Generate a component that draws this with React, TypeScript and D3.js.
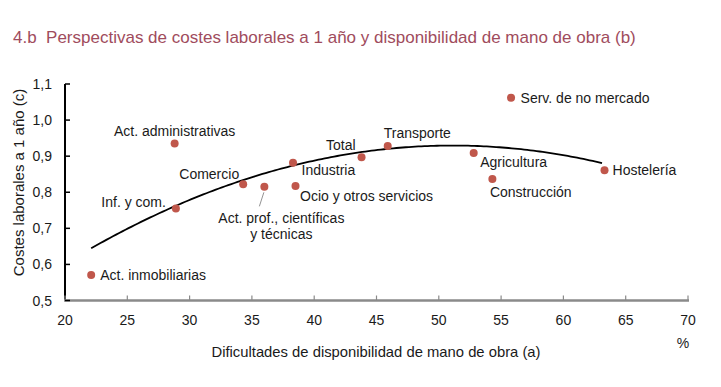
import React, { useEffect, useRef } from 'react';
import * as d3 from 'd3';

// sector data: x = dificultades de disponibilidad (%), y = costes laborales
const sectors = [
  'Act. inmobiliarias', 'Act. administrativas', 'Inf. y com.', 'Comercio',
  'Act. prof., científicas|y técnicas', 'Industria', 'Ocio y otros servicios', 'Total',
  'Transporte', 'Agricultura', 'Construcción', 'Serv. de no mercado', 'Hostelería',
];
const difficulty = [22.1, 28.8, 28.9, 34.3, 36.0, 38.3, 38.5, 43.8, 45.9, 52.8, 54.3, 55.8, 63.3];
const laborCost = [0.571, 0.935, 0.755, 0.822, 0.815, 0.882, 0.817, 0.897, 0.928, 0.909, 0.837, 1.062, 0.861];

const xTicks = [20, 25, 30, 35, 40, 45, 50, 55, 60, 65, 70];
const yTicks = [0.5, 0.6, 0.7, 0.8, 0.9, 1.0, 1.1];

// label placement relative to each point: [dx, dy, anchor]
const labelPos: [number, number, string][] = [
  [9, 0, 'start'], [0, -13, 'middle'], [-10, -6, 'end'], [-4, -10, 'end'],
  [17, 31.5, 'middle'], [8.5, 7.5, 'start'], [4.5, 9.5, 'start'], [-6, -12.5, 'end'],
  [-4, -13.5, 'start'], [6.5, 9, 'start'], [-2.5, 13.5, 'start'], [9.5, 0, 'start'], [8, 0, 'start'],
];

const FONT = '"Liberation Sans", Arial, sans-serif';
const DOT = '#c0574b';

// quadratic least squares fit
function quadFit(xs: number[], ys: number[]) {
  const S = (f: (x: number, y: number) => number) => d3.sum(xs, (x, i) => f(x, ys[i]));
  const A = [
    [xs.length, S(x => x), S(x => x * x)],
    [S(x => x), S(x => x * x), S(x => x ** 3)],
    [S(x => x * x), S(x => x ** 3), S(x => x ** 4)],
  ];
  const B = [S((x, y) => y), S((x, y) => x * y), S((x, y) => x * x * y)];
  const det = (m: number[][]) =>
    m[0][0] * (m[1][1] * m[2][2] - m[1][2] * m[2][1]) -
    m[0][1] * (m[1][0] * m[2][2] - m[1][2] * m[2][0]) +
    m[0][2] * (m[1][0] * m[2][1] - m[1][1] * m[2][0]);
  const D = det(A);
  return [0, 1, 2].map(k => det(A.map((row, i) => row.map((v, j) => (j === k ? B[i] : v)))) / D);
}

const App = () => {
  const ref = useRef<SVGSVGElement>(null);

  useEffect(() => {
    const svg = d3.select(ref.current);
    svg.selectAll('*').remove();

    const x = d3.scaleLinear().domain([20, 70]).range([65, 688]);
    const y = d3.scaleLinear().domain([0.5, 1.1]).range([300.5, 84]);

    svg.append('text')
      .attr('x', 13).attr('y', 43)
      .attr('font-size', 17).attr('fill', '#9f4c5d')
      .attr('xml:space', 'preserve')
      .text('4.b  Perspectivas de costes laborales a 1 año y disponibilidad de mano de obra (b)');

    // axes
    svg.append('line').attr('x1', 65).attr('x2', 65).attr('y1', y(1.1)).attr('y2', y(0.5))
      .attr('stroke', '#000').attr('stroke-width', 2);
    svg.append('line').attr('x1', 64).attr('x2', x(70) + 1).attr('y1', y(0.5)).attr('y2', y(0.5))
      .attr('stroke', '#8a8a8a').attr('stroke-width', 2.5);

    svg.selectAll('.xt').data(xTicks).enter().append('line')
      .attr('x1', d => x(d)).attr('x2', d => x(d)).attr('y1', y(0.5)).attr('y2', y(0.5) - 5)
      .attr('stroke', '#8a8a8a').attr('stroke-width', 1.2);
    svg.selectAll('.xl').data(xTicks).enter().append('text')
      .attr('x', d => x(d)).attr('y', 324.5).attr('text-anchor', 'middle')
      .attr('font-size', 14).attr('fill', '#1a1a1a').text(d => d);

    svg.selectAll('.yt').data(yTicks).enter().append('line')
      .attr('x1', 65).attr('x2', 70).attr('y1', d => y(d)).attr('y2', d => y(d))
      .attr('stroke', '#000').attr('stroke-width', 1.5);
    svg.selectAll('.yl').data(yTicks).enter().append('text')
      .attr('x', 52).attr('y', d => y(d) + 5).attr('text-anchor', 'end')
      .attr('font-size', 14).attr('fill', '#1a1a1a').text(d => d3.format('.1f')(d).replace('.', ','));

    svg.append('text')
      .attr('transform', 'translate(24,182.5) rotate(-90)').attr('text-anchor', 'middle')
      .attr('font-size', 15).attr('fill', '#1a1a1a').text('Costes laborales a 1 año (c)');
    svg.append('text')
      .attr('x', 376).attr('y', 357).attr('text-anchor', 'middle')
      .attr('font-size', 14.8).attr('fill', '#1a1a1a')
      .text('Dificultades de disponibilidad de mano de obra (a)');
    svg.append('text')
      .attr('x', 683).attr('y', 348).attr('text-anchor', 'middle')
      .attr('font-size', 14).attr('fill', '#1a1a1a').text('%');

    // trend curve
    const [a, b, c] = quadFit(difficulty, laborCost);
    const xs = d3.range(d3.min(difficulty)!, d3.max(difficulty)! + 0.01, 0.25);
    svg.append('path')
      .attr('d', d3.line<number>().x(d => x(d)).y(d => y(a + b * d + c * d * d))(xs))
      .attr('fill', 'none').attr('stroke', '#000').attr('stroke-width', 1.8);

    // leader line for Act. prof.
    const pi = 4;
    svg.append('line')
      .attr('x1', x(difficulty[pi]) - 5).attr('y1', y(laborCost[pi]) + 19.5)
      .attr('x2', x(difficulty[pi]) - 0.5).attr('y2', y(laborCost[pi]) + 5.5)
      .attr('stroke', '#777').attr('stroke-width', 0.8);

    svg.selectAll('circle').data(sectors).enter().append('circle')
      .attr('cx', (d, i) => x(difficulty[i])).attr('cy', (d, i) => y(laborCost[i]))
      .attr('r', 4).attr('fill', DOT);

    sectors.forEach((s, i) => {
      const [dx, dy, anchor] = labelPos[i];
      const t = svg.append('text')
        .attr('text-anchor', anchor).attr('font-size', 14).attr('fill', '#1a1a1a');
      s.split('|').forEach((line, k) => {
        t.append('tspan')
          .attr('x', x(difficulty[i]) + dx)
          .attr('y', y(laborCost[i]) + dy + k * 15.7 + 5)
          .text(line);
      });
    });
  }, []);

  return (
    <svg ref={ref} width={721} height={387}
      style={{ position: 'absolute', top: 0, left: 0, background: '#fff', fontFamily: FONT }} />
  );
};

export default App;
